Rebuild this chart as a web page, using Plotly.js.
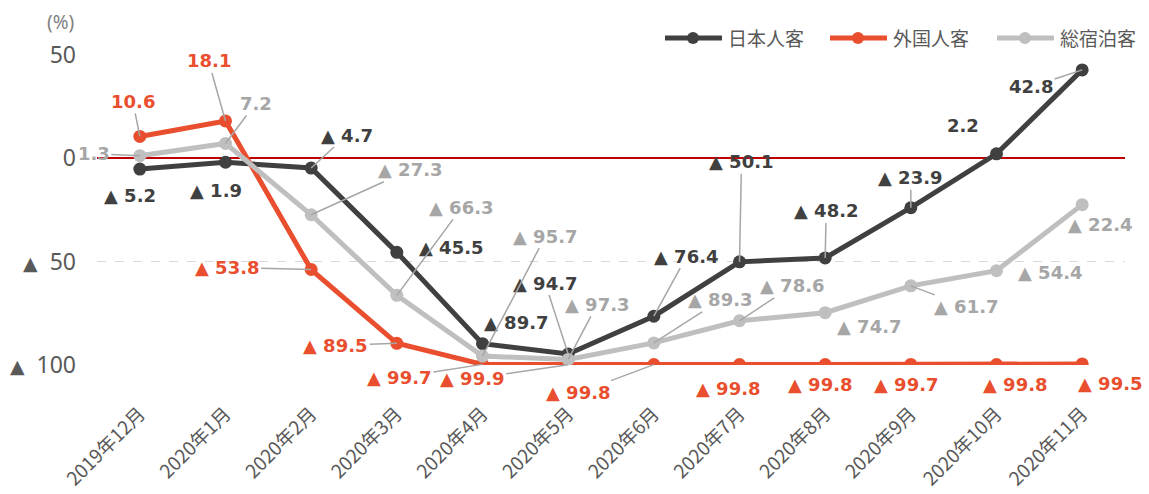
<!DOCTYPE html>
<html><head><meta charset="utf-8">
<script src="https://cdn.plot.ly/plotly-3.0.1.min.js"></script>
<style>html,body{margin:0;padding:0;background:#fff;}#chart{width:1149px;height:494px;}</style>
</head><body><div id="chart"></div>
<script>
// ---- data ----
const months = ['2019年12月','2020年1月','2020年2月','2020年3月','2020年4月','2020年5月','2020年6月','2020年7月','2020年8月','2020年9月','2020年10月','2020年11月'];
const japanese = [-5.2,-1.9,-4.7,-45.5,-89.7,-94.7,-76.4,-50.1,-48.2,-23.9,2.2,42.8];
const foreign  = [10.6,18.1,-53.8,-89.5,-99.7,-99.9,-99.8,-99.8,-99.8,-99.7,-99.8,-99.5];
const total    = [1.3,7.2,-27.3,-66.3,-95.7,-97.3,-89.3,-78.6,-74.7,-61.7,-54.4,-22.4];
const seriesNames = ['日本人客','外国人客','総宿泊客'];
const yTickVals = [50,0,-50,-100];
const yTickText = ['50','0','▲ 50','▲ 100'];

// ---- label placement (pixel offsets from point, leader line flag) ----
const japLabelPos = [[-10,26,0],[-10,28,0],[36,-33,1],[55,-5,0],[34,-21,0],[-23,-71,1],[33,-60,1],[2,-100,1],[1,-47,1],[0,-30,1],[-34,-28,0],[-51,17,1]];
const forLabelPos = [[-7,-35,1],[-17,-60,1],[-84,-2,1],[-61,2,1],[-83,13,1],[-96,14,1],[-75,28,1],[-11,24,0],[-5,20,0],[-4,20,0],[19,20,0],[28,20,0]];
const totLabelPos = [[-46,-2,1],[30,-40,1],[99,-45,1],[65,-88,1],[63,-120,1],[29,-55,1],[67,-43,1],[53,-35,1],[44,14,0],[56,21,1],[54,2,0],[18,20,0]];

const colors = ['#404040','#E94F2E','#BFBFBF'];
const labelColors = ['#404040','#E94F2E','#A6A6A6'];
const allSeries = [japanese, foreign, total];
const allPos = [japLabelPos, forLabelPos, totLabelPos];

// plot area geometry (pixels) used for paper-coordinate placement of legend / unit text
const M = {l:97, r:24, t:55, b:129};
const W = 1149, H = 494;
const PW = W - M.l - M.r, PH = H - M.t - M.b;
const px = x => (x - M.l) / PW;
const py = y => (H - M.b - y) / PH;
const legendStartX = [665, 830, 997];
const legendY = 38;

function fmt(v){ return v < 0 ? '▲ ' + Math.abs(v).toFixed(1) : v.toFixed(1); }
function tri(t){ return t.replace('▲ ', '<span style="font-family:DejaVu Sans;font-size:19px">▲</span>  '); }

const traces = allSeries.map((s,i) => ({
  type:'scatter', mode:'lines+markers', x: months, y: s, name: seriesNames[i],
  line:{color:colors[i], width:5}, marker:{color:colors[i], size:13},
  hoverinfo:'skip', showlegend:false
}));

const annotations = [];
allSeries.forEach((s,i) => {
  s.forEach((v,j) => {
    const p = allPos[i][j];
    annotations.push({
      x: months[j], y: v, xref:'x', yref:'y', text: fmt(v),
      showarrow: true, ax: p[0], ay: p[1], axref:'pixel', ayref:'pixel',
      arrowhead: 0, arrowwidth: 1.5, standoff: 0,
      arrowcolor: p[2] ? '#A6A6A6' : 'rgba(0,0,0,0)',
      font:{family:'DejaVu Sans', size:18, color:labelColors[i], weight:'bold'}
    });
  });
});
annotations.push({
  xref:'paper', yref:'paper', x:px(60), y:py(22), xanchor:'center', yanchor:'middle',
  text:'(%)', showarrow:false,
  font:{family:'Noto Sans', size:19, color:'#7F7F7F'}
});

// legend (line + marker symbol + name)
const shapes = [];
seriesNames.forEach((n,i) => {
  const x0 = legendStartX[i];
  shapes.push({type:'line', xref:'paper', yref:'paper', x0:px(x0), x1:px(x0+57), y0:py(legendY), y1:py(legendY),
    line:{color:colors[i], width:5}});
  shapes.push({type:'circle', xref:'paper', yref:'paper', x0:px(x0+22), x1:px(x0+34), y0:py(legendY+6), y1:py(legendY-6),
    fillcolor:colors[i], line:{color:colors[i], width:0}});
  annotations.push({xref:'paper', yref:'paper', x:px(x0+61), y:py(legendY), xanchor:'left', yanchor:'middle',
    text:n, showarrow:false, font:{family:'Noto Sans CJK JP', size:19, color:'#595959'}});
});

const layout = {
  width:W, height:H,
  margin:M,
  paper_bgcolor:'#fff', plot_bgcolor:'#fff',
  showlegend:false,
  xaxis:{type:'category', range:[-0.5,11.5], showgrid:false, zeroline:false, showline:false,
    ticks:'', tickangle:-45, tickfont:{family:'Noto Sans CJK JP', size:19, color:'#595959'},
    ticklabelstandoff:33, fixedrange:true},
  yaxis:{range:[-100,50], tickvals:yTickVals, ticktext:yTickText.map(tri),
    showgrid:true, gridcolor:'#D9D9D9', griddash:'dash', gridwidth:1,
    zeroline:true, zerolinecolor:'#C00000', zerolinewidth:2, showline:false, ticks:'',
    tickfont:{family:'Noto Sans', size:23, color:'#595959'}, ticklabelstandoff:20,
    fixedrange:true},
  shapes: shapes,
  annotations: annotations
};

Plotly.newPlot('chart', traces, layout, {displayModeBar:false, staticPlot:true});
</script>
</body></html>
